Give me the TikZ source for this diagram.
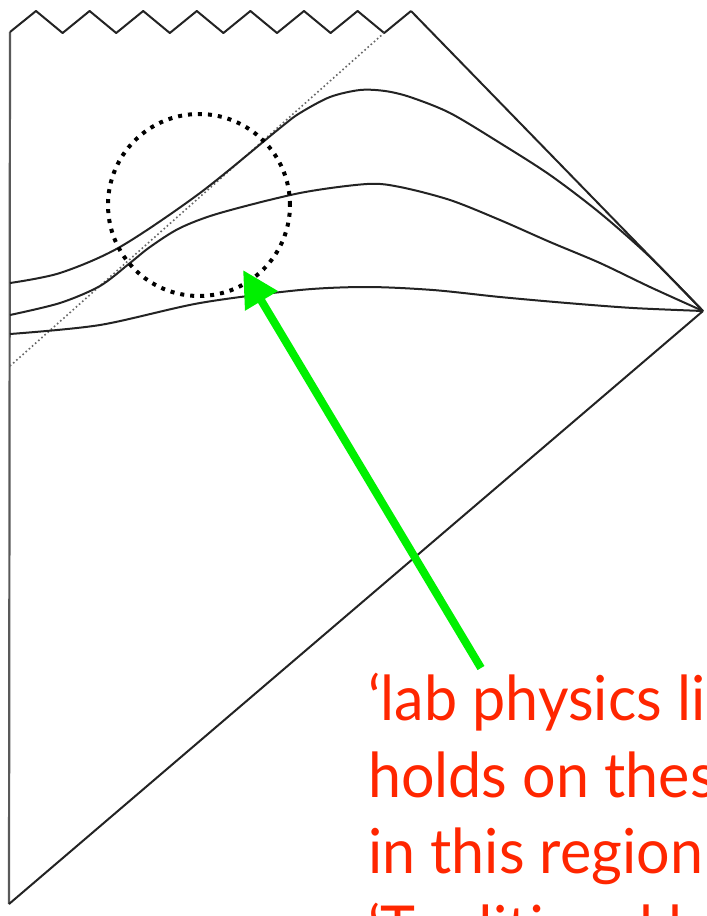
\documentclass[tikz,border=0pt]{standalone}
\usepackage{fontspec}
\setmainfont{Lato}[FakeStretch=0.955]
\usetikzlibrary{arrows.meta}
\definecolor{penline}{RGB}{35,35,35}
\definecolor{labred}{RGB}{255,38,0}
\definecolor{arrowgreen}{RGB}{0,240,0}
\tikzset{
  pen/.style={draw=penline, line width=2pt, line join=round},
  edge/.style={draw=gray!70!black, line width=2.2pt},
  nullhint/.style={draw=gray!80!black, line width=1.6pt, dash pattern=on 1.6pt off 2.6pt},
  region/.style={draw=black, line width=4pt, dash pattern=on 4pt off 6pt},
  pointer/.style={draw=arrowgreen, line width=8pt, -{Triangle[length=36pt,width=36pt]}},
  caption/.style={text=labred, font=\fontsize{62}{77}\selectfont, anchor=base west, inner sep=0pt}
}
\begin{document}
\begin{tikzpicture}[x=1pt,y=-1pt]
\useasboundingbox (0,0) rectangle (707,916);
\clip (0,0) rectangle (707,916);
% corner points
\coordinate (top) at (10,32);
\coordinate (bot) at (9,904);
\coordinate (iplus) at (703,311);
\coordinate (zzend) at (411,11);
\coordinate (hintA) at (10,366);
\coordinate (hintB) at (384,33);
% left edge (r=0)
\draw[edge] (top) -- (bot);
% singularity zigzag
\draw[pen] (top)
  \foreach \k in {0,...,6} { -- ({36+53.6*\k},11) -- ({62.6+53.6*\k},33) } -- (zzend);
% null boundaries
\draw[pen] (zzend) -- (iplus);
\draw[pen] (bot) -- (iplus);
% dotted horizon hint
\draw[nullhint] (hintA) -- (hintB);
% slices
\draw[pen] plot[smooth, tension=0.5] coordinates {(10,283) (60,273) (120,247) (200,193) (280,128) (300,113) (330,97) (360,90) (385,91) (410,97) (450,113) (500,143) (550,175) (600,213) (650,257) (703,311)};
\draw[pen] plot[smooth, tension=0.5] coordinates {(10,315) (60,303) (100,286) (130,263) (150,247) (180,228) (220,213) (300,193) (367,184) (400,187) (450,200) (500,220) (550,242) (600,263) (650,287) (703,311)};
\draw[pen] plot[smooth, tension=0.5] coordinates {(10,334) (100,325) (200,303) (300,290) (367,287) (433,290) (500,297) (567,303) (633,308) (703,311)};
% region circle
\node[region, circle, minimum size=182pt, inner sep=0pt] (reg) at (199,205) {};
% label
\node[caption] (l1) at (368,720) {‘lab physics like’};
\node[caption] (l2) at (368,797) {holds on these};
\node[caption] (l3) at (368,873) {in this region};
\node[caption] (l4) at (368,950) {‘Traditional lab};
\coordinate (tip) at (243,270);
\coordinate (tail) at (481,668);
\draw[pointer] (tail) -- (tip);
\end{tikzpicture}
\end{document}
